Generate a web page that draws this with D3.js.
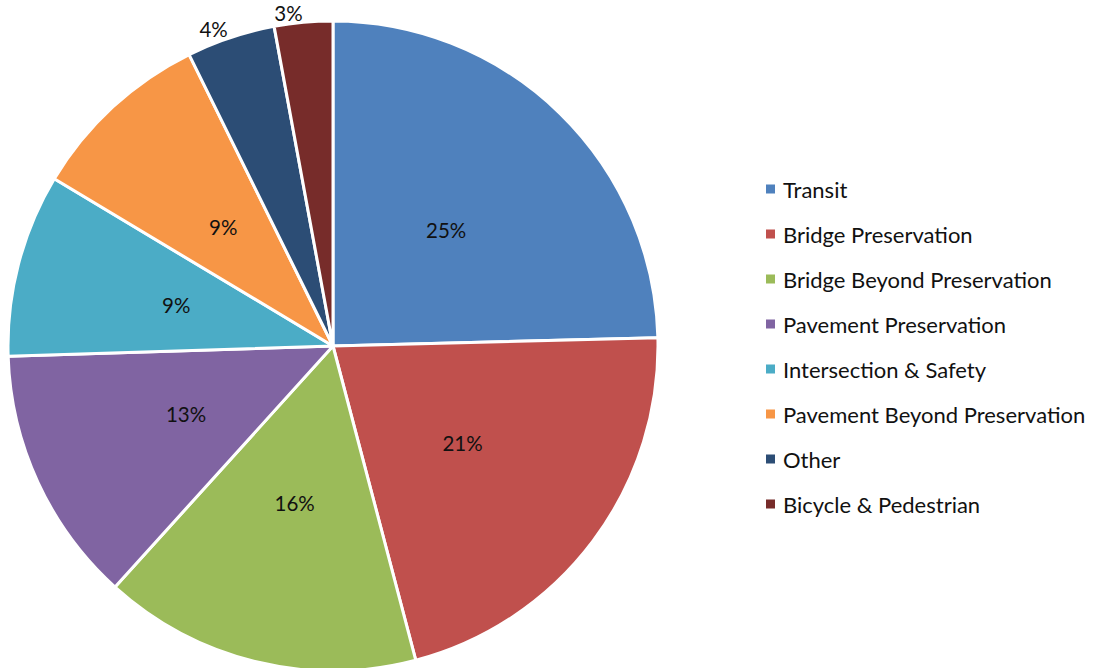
<!DOCTYPE html>
<html><head><meta charset="utf-8">
<script src="https://cdn.jsdelivr.net/npm/d3@7"></script>
<style>body{margin:0;background:#fff}svg{display:block}</style>
</head><body>
<svg id="c" width="1099" height="668"></svg>
<script>
const categories = ["Transit","Bridge Preservation","Bridge Beyond Preservation","Pavement Preservation","Intersection & Safety","Pavement Beyond Preservation","Other","Bicycle & Pedestrian"];
const values = [24.6, 21.3, 15.8, 12.8, 9.1, 9.1, 4.4, 2.9];
const colors = ["#4F81BD","#C0504D","#9BBB59","#8064A2","#4BACC6","#F79646","#2C4D75","#772C2A"];
const outsideLabel = [false,false,false,false,false,false,true,true];

const svg = d3.select("#c");
const cx = 333, cy = 346, R = 325;
const font = "Lato, 'Open Sans', sans-serif";
const data = categories.map((c,i)=>({name:c, value:values[i], color:colors[i], outside:outsideLabel[i]}));
const pie = d3.pie().value(d=>d.value).sort(null);
const arcs = pie(data);
const arc = d3.arc().innerRadius(0).outerRadius(R);
const g = svg.append("g").attr("transform",`translate(${cx},${cy})`);
g.selectAll("path").data(arcs).join("path")
  .attr("d",arc).attr("fill",d=>d.data.color)
  .attr("stroke","#fff").attr("stroke-width",3).attr("stroke-linejoin","round");
const total = d3.sum(values);
const inArc = d3.arc().innerRadius(162).outerRadius(162);
const outArc = d3.arc().innerRadius(334).outerRadius(334);
g.selectAll("text.lbl").data(arcs).join("text").attr("class","lbl")
  .attr("transform",d=>`translate(${(d.data.outside?outArc:inArc).centroid(d)})`)
  .attr("text-anchor",d=>d.data.outside?"end":"middle").attr("dominant-baseline","central")
  .attr("font-family",font).attr("font-size",20.5).attr("fill","#111")
  .text(d=>Math.round(d.data.value/total*100)+"%");

const lg = svg.append("g");
const rows = lg.selectAll("g").data(data).join("g")
  .attr("transform",(d,i)=>`translate(766,${189+i*45})`);
rows.append("rect").attr("x",0).attr("y",-4.5).attr("width",9).attr("height",9).attr("fill",d=>d.color);
rows.append("text").attr("x",17).attr("y",0).attr("dominant-baseline","central")
  .attr("font-family",font).attr("font-size",22).attr("fill","#111").text(d=>d.name);
</script>
</body></html>
